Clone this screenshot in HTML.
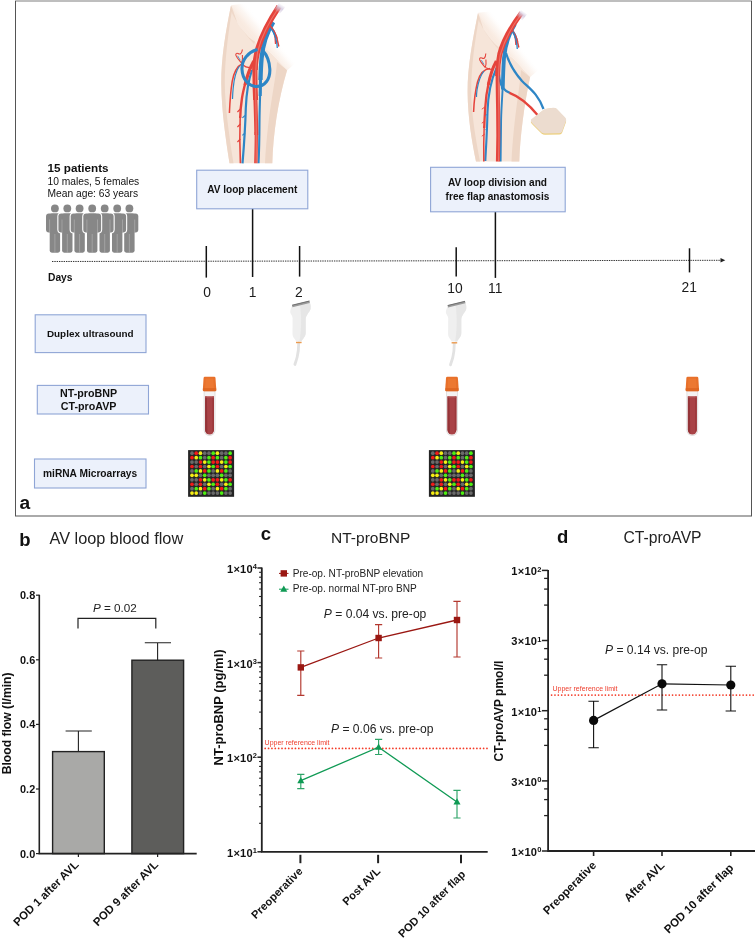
<!DOCTYPE html>
<html><head><meta charset="utf-8"><title>Figure</title>
<style>
html,body{margin:0;padding:0;background:#fff}
svg{display:block;will-change:transform;opacity:0.999}
text{font-family:"Liberation Sans",sans-serif}
</style></head><body>
<svg width="755" height="939" viewBox="0 0 755 939">
<rect width="755" height="939" fill="#fff"/>
<rect x="15.5" y="1" width="736" height="514.7" fill="#fff" stroke="none"/>
<text x="47.5" y="172.3" font-size="11.7" font-weight="bold" fill="#111">15 patients</text>
<text x="47.5" y="184.9" font-size="10.25" fill="#111">10 males, 5 females</text>
<text x="47.5" y="197.3" font-size="10.25" fill="#111">Mean age: 63 years</text>
<g fill="#fff" stroke="#fff" stroke-width="2.2"><rect x="46.00" y="213.5" width="17.8" height="18.9" rx="2.9"/><rect x="49.70" y="213.5" width="10.4" height="39.2" rx="2.1"/><circle cx="54.9" cy="208.4" r="3.9"/></g><g fill="#878787"><rect x="46.00" y="213.5" width="17.8" height="18.9" rx="2.9"/><rect x="49.70" y="213.5" width="10.4" height="39.2" rx="2.1"/><circle cx="54.9" cy="208.4" r="3.9"/></g><path d="M49.60,219.5 V232.6 M60.20,219.5 V232.6 M54.9,234 V252.7" stroke="#b9b9b9" stroke-width="0.55" fill="none"/>
<g fill="#fff" stroke="#fff" stroke-width="2.2"><rect x="120.50" y="213.5" width="17.8" height="18.9" rx="2.9"/><rect x="124.20" y="213.5" width="10.4" height="39.2" rx="2.1"/><circle cx="129.4" cy="208.4" r="3.9"/></g><g fill="#878787"><rect x="120.50" y="213.5" width="17.8" height="18.9" rx="2.9"/><rect x="124.20" y="213.5" width="10.4" height="39.2" rx="2.1"/><circle cx="129.4" cy="208.4" r="3.9"/></g><path d="M124.10,219.5 V232.6 M134.70,219.5 V232.6 M129.4,234 V252.7" stroke="#b9b9b9" stroke-width="0.55" fill="none"/>
<g fill="#fff" stroke="#fff" stroke-width="2.2"><rect x="58.40" y="213.5" width="17.8" height="18.9" rx="2.9"/><rect x="62.10" y="213.5" width="10.4" height="39.2" rx="2.1"/><circle cx="67.3" cy="208.4" r="3.9"/></g><g fill="#878787"><rect x="58.40" y="213.5" width="17.8" height="18.9" rx="2.9"/><rect x="62.10" y="213.5" width="10.4" height="39.2" rx="2.1"/><circle cx="67.3" cy="208.4" r="3.9"/></g><path d="M62.00,219.5 V232.6 M72.60,219.5 V232.6 M67.3,234 V252.7" stroke="#b9b9b9" stroke-width="0.55" fill="none"/>
<g fill="#fff" stroke="#fff" stroke-width="2.2"><rect x="108.30" y="213.5" width="17.8" height="18.9" rx="2.9"/><rect x="112.00" y="213.5" width="10.4" height="39.2" rx="2.1"/><circle cx="117.2" cy="208.4" r="3.9"/></g><g fill="#878787"><rect x="108.30" y="213.5" width="17.8" height="18.9" rx="2.9"/><rect x="112.00" y="213.5" width="10.4" height="39.2" rx="2.1"/><circle cx="117.2" cy="208.4" r="3.9"/></g><path d="M111.90,219.5 V232.6 M122.50,219.5 V232.6 M117.2,234 V252.7" stroke="#b9b9b9" stroke-width="0.55" fill="none"/>
<g fill="#fff" stroke="#fff" stroke-width="2.2"><rect x="70.70" y="213.5" width="17.8" height="18.9" rx="2.9"/><rect x="74.40" y="213.5" width="10.4" height="39.2" rx="2.1"/><circle cx="79.6" cy="208.4" r="3.9"/></g><g fill="#878787"><rect x="70.70" y="213.5" width="17.8" height="18.9" rx="2.9"/><rect x="74.40" y="213.5" width="10.4" height="39.2" rx="2.1"/><circle cx="79.6" cy="208.4" r="3.9"/></g><path d="M74.30,219.5 V232.6 M84.90,219.5 V232.6 M79.6,234 V252.7" stroke="#b9b9b9" stroke-width="0.55" fill="none"/>
<g fill="#fff" stroke="#fff" stroke-width="2.2"><rect x="95.80" y="213.5" width="17.8" height="18.9" rx="2.9"/><rect x="99.50" y="213.5" width="10.4" height="39.2" rx="2.1"/><circle cx="104.7" cy="208.4" r="3.9"/></g><g fill="#878787"><rect x="95.80" y="213.5" width="17.8" height="18.9" rx="2.9"/><rect x="99.50" y="213.5" width="10.4" height="39.2" rx="2.1"/><circle cx="104.7" cy="208.4" r="3.9"/></g><path d="M99.40,219.5 V232.6 M110.00,219.5 V232.6 M104.7,234 V252.7" stroke="#b9b9b9" stroke-width="0.55" fill="none"/>
<g fill="#fff" stroke="#fff" stroke-width="2.2"><rect x="83.30" y="213.5" width="17.8" height="18.9" rx="2.9"/><rect x="87.00" y="213.5" width="10.4" height="39.2" rx="2.1"/><circle cx="92.2" cy="208.4" r="3.9"/></g><g fill="#878787"><rect x="83.30" y="213.5" width="17.8" height="18.9" rx="2.9"/><rect x="87.00" y="213.5" width="10.4" height="39.2" rx="2.1"/><circle cx="92.2" cy="208.4" r="3.9"/></g><path d="M86.90,219.5 V232.6 M97.50,219.5 V232.6 M92.2,234 V252.7" stroke="#b9b9b9" stroke-width="0.55" fill="none"/>
<line x1="52" y1="261.5" x2="721" y2="260.3" stroke="#333" stroke-width="1" stroke-dasharray="1.4,0.93"/>
<path d="M720.5,258.1 L725.3,260.3 L720.5,262.5 z" fill="#222"/>
<line x1="206.3" y1="246" x2="206.3" y2="277.6" stroke="#111" stroke-width="1.5"/>
<line x1="299.6" y1="246" x2="299.6" y2="276.6" stroke="#111" stroke-width="1.5"/>
<line x1="456.2" y1="247.3" x2="456.2" y2="276.4" stroke="#111" stroke-width="1.5"/>
<line x1="689.5" y1="248.3" x2="689.5" y2="272.4" stroke="#111" stroke-width="1.5"/>
<line x1="252.6" y1="208.5" x2="252.6" y2="277" stroke="#111" stroke-width="1.5"/>
<line x1="495.4" y1="212" x2="495.4" y2="277.9" stroke="#111" stroke-width="1.5"/>
<text x="207" y="297.2" font-size="13.8" text-anchor="middle" fill="#1a1a1a">0</text>
<text x="252.7" y="297.2" font-size="13.8" text-anchor="middle" fill="#1a1a1a">1</text>
<text x="298.8" y="297.2" font-size="13.8" text-anchor="middle" fill="#1a1a1a">2</text>
<text x="454.9" y="293.2" font-size="13.8" text-anchor="middle" fill="#1a1a1a">10</text>
<text x="495.2" y="293.2" font-size="13.8" text-anchor="middle" fill="#1a1a1a">11</text>
<text x="689.2" y="291.7" font-size="13.8" text-anchor="middle" fill="#1a1a1a">21</text>
<text x="48" y="280.6" font-size="10.25" font-weight="bold" fill="#111">Days</text>
<rect x="196.7" y="170.2" width="111.1" height="38.6" fill="#ecf1fb" stroke="#8fa5d6" stroke-width="1.1"/>
<text x="252.2" y="193" font-size="10.1" font-weight="bold" text-anchor="middle" fill="#111">AV loop placement</text>
<rect x="430.6" y="167.3" width="134.6" height="44.5" fill="#ecf1fb" stroke="#8fa5d6" stroke-width="1.1"/>
<text x="497.5" y="186.4" font-size="10.1" font-weight="bold" text-anchor="middle" fill="#111">AV loop division and</text>
<text x="497.5" y="199.9" font-size="10.1" font-weight="bold" text-anchor="middle" fill="#111">free flap anastomosis</text>
<rect x="35.2" y="314.8" width="110.8" height="37.8" fill="#ecf1fb" stroke="#8fa5d6" stroke-width="1.1"/>
<text x="90.3" y="337" font-size="9.9" font-weight="bold" text-anchor="middle" fill="#111">Duplex ultrasound</text>
<rect x="37.3" y="385.4" width="111.2" height="28.6" fill="#ecf1fb" stroke="#8fa5d6" stroke-width="1.1"/>
<text x="88.6" y="397" font-size="10.7" font-weight="bold" text-anchor="middle" fill="#111">NT-proBNP</text>
<text x="88.6" y="410.2" font-size="10.7" font-weight="bold" text-anchor="middle" fill="#111">CT-proAVP</text>
<rect x="34.5" y="459" width="111.5" height="29" fill="#ecf1fb" stroke="#8fa5d6" stroke-width="1.1"/>
<text x="90.1" y="477.3" font-size="10.2" font-weight="bold" text-anchor="middle" fill="#111">miRNA Microarrays</text>
<text x="19.6" y="508.7" font-size="19.2" font-weight="bold" fill="#111">a</text>
<g transform="translate(0,0)"><path d="M298.7,343 C298.7,349 298.2,353 297.2,357 C296.4,360 295.5,362.5 294.9,364.5" fill="none" stroke="#e2e2e2" stroke-width="2.8" stroke-linecap="round"/><path d="M292.3,305.6 L309.4,301.4 C310.6,304 311,306.5 310.6,309 C309,313 306,315 305.7,319 L305.7,333 C305.5,337 302.5,339 301.6,341.3 L296,341.3 C295.5,339 292.7,338 292.5,334 L292.6,318 C292.4,315.5 290.4,314 290.2,312 C290.4,309.5 291.3,307.5 292.3,305.6 z" fill="#efefef"/><path d="M300,304 L309.4,301.4 C310.6,304 311,306.5 310.6,309 C309,313 306,315 305.7,319 L305.7,333 C305.5,337 302.5,339 301.6,341.3 L299.5,341.3 C301,333 302,320 300,304 z" fill="#e6e6e6"/><path d="M292.1,305 L309.4,300.8 L309.8,302.9 L292.4,307.2 z" fill="#9a9a9a"/><path d="M292.1,305.2 L309.4,301" stroke="#606060" stroke-width="0.8" fill="none"/><path d="M296,342.5 L301.6,342.5" stroke="#eb9a4e" stroke-width="1.4" fill="none"/></g>
<g transform="translate(155.6,0.3)"><path d="M298.7,343 C298.7,349 298.2,353 297.2,357 C296.4,360 295.5,362.5 294.9,364.5" fill="none" stroke="#e2e2e2" stroke-width="2.8" stroke-linecap="round"/><path d="M292.3,305.6 L309.4,301.4 C310.6,304 311,306.5 310.6,309 C309,313 306,315 305.7,319 L305.7,333 C305.5,337 302.5,339 301.6,341.3 L296,341.3 C295.5,339 292.7,338 292.5,334 L292.6,318 C292.4,315.5 290.4,314 290.2,312 C290.4,309.5 291.3,307.5 292.3,305.6 z" fill="#efefef"/><path d="M300,304 L309.4,301.4 C310.6,304 311,306.5 310.6,309 C309,313 306,315 305.7,319 L305.7,333 C305.5,337 302.5,339 301.6,341.3 L299.5,341.3 C301,333 302,320 300,304 z" fill="#e6e6e6"/><path d="M292.1,305 L309.4,300.8 L309.8,302.9 L292.4,307.2 z" fill="#9a9a9a"/><path d="M292.1,305.2 L309.4,301" stroke="#606060" stroke-width="0.8" fill="none"/><path d="M296,342.5 L301.6,342.5" stroke="#eb9a4e" stroke-width="1.4" fill="none"/></g>
<g transform="translate(0,0)"><path d="M203.7,390 L203.7,430.2 A5.85,5.85 0 0 0 215.4,430.2 L215.4,390 z" fill="#dcdada"/><path d="M204.5,390 L204.5,430.2 A5.05,5.05 0 0 0 214.6,430.2 L214.6,390 z" fill="#f4f2f2"/><path d="M205.1,396.4 L205.1,430 A4.45,4.45 0 0 0 214,430 L214,396.4 z" fill="#a94347"/><path d="M205.1,396.4 L205.1,430 A4.45,4.45 0 0 0 207.4,433.8 L206.9,396.4 z" fill="#943337"/><path d="M212.4,396.4 L212.4,432.5 A4.45,4.45 0 0 0 214,430 L214,396.4 z" fill="#9c383b"/><path d="M205.1,396.4 h8.9 v1.1 h-8.9 z" fill="#b85a5c"/><path d="M203.6,377.9 Q203.7,376.8 204.9,376.8 L214.2,376.8 Q215.4,376.8 215.5,377.9 L216.3,389.9 Q216.3,391.3 215,391.3 L204.1,391.3 Q202.8,391.3 202.8,389.9 z" fill="#e8702a"/><path d="M205.6,378.6 L213.4,378.6 L213.9,388.6 L205.1,388.6 z" fill="#ef8038" opacity="0.55"/><path d="M203,388 L216.1,388 L216.3,389.9 Q216.3,391.3 215,391.3 L204.1,391.3 Q202.8,391.3 202.8,389.9 z" fill="#d9611f" opacity="0.6"/></g>
<g transform="translate(242.4,0)"><path d="M203.7,390 L203.7,430.2 A5.85,5.85 0 0 0 215.4,430.2 L215.4,390 z" fill="#dcdada"/><path d="M204.5,390 L204.5,430.2 A5.05,5.05 0 0 0 214.6,430.2 L214.6,390 z" fill="#f4f2f2"/><path d="M205.1,396.4 L205.1,430 A4.45,4.45 0 0 0 214,430 L214,396.4 z" fill="#a94347"/><path d="M205.1,396.4 L205.1,430 A4.45,4.45 0 0 0 207.4,433.8 L206.9,396.4 z" fill="#943337"/><path d="M212.4,396.4 L212.4,432.5 A4.45,4.45 0 0 0 214,430 L214,396.4 z" fill="#9c383b"/><path d="M205.1,396.4 h8.9 v1.1 h-8.9 z" fill="#b85a5c"/><path d="M203.6,377.9 Q203.7,376.8 204.9,376.8 L214.2,376.8 Q215.4,376.8 215.5,377.9 L216.3,389.9 Q216.3,391.3 215,391.3 L204.1,391.3 Q202.8,391.3 202.8,389.9 z" fill="#e8702a"/><path d="M205.6,378.6 L213.4,378.6 L213.9,388.6 L205.1,388.6 z" fill="#ef8038" opacity="0.55"/><path d="M203,388 L216.1,388 L216.3,389.9 Q216.3,391.3 215,391.3 L204.1,391.3 Q202.8,391.3 202.8,389.9 z" fill="#d9611f" opacity="0.6"/></g>
<g transform="translate(482.8,0)"><path d="M203.7,390 L203.7,430.2 A5.85,5.85 0 0 0 215.4,430.2 L215.4,390 z" fill="#dcdada"/><path d="M204.5,390 L204.5,430.2 A5.05,5.05 0 0 0 214.6,430.2 L214.6,390 z" fill="#f4f2f2"/><path d="M205.1,396.4 L205.1,430 A4.45,4.45 0 0 0 214,430 L214,396.4 z" fill="#a94347"/><path d="M205.1,396.4 L205.1,430 A4.45,4.45 0 0 0 207.4,433.8 L206.9,396.4 z" fill="#943337"/><path d="M212.4,396.4 L212.4,432.5 A4.45,4.45 0 0 0 214,430 L214,396.4 z" fill="#9c383b"/><path d="M205.1,396.4 h8.9 v1.1 h-8.9 z" fill="#b85a5c"/><path d="M203.6,377.9 Q203.7,376.8 204.9,376.8 L214.2,376.8 Q215.4,376.8 215.5,377.9 L216.3,389.9 Q216.3,391.3 215,391.3 L204.1,391.3 Q202.8,391.3 202.8,389.9 z" fill="#e8702a"/><path d="M205.6,378.6 L213.4,378.6 L213.9,388.6 L205.1,388.6 z" fill="#ef8038" opacity="0.55"/><path d="M203,388 L216.1,388 L216.3,389.9 Q216.3,391.3 215,391.3 L204.1,391.3 Q202.8,391.3 202.8,389.9 z" fill="#d9611f" opacity="0.6"/></g>
<g transform="translate(0,0)"><rect x="188.1" y="450.1" width="46" height="46.7" fill="#242424"/><circle cx="192.00" cy="453.20" r="1.85" fill="#6a6a6a"/><circle cx="196.24" cy="453.20" r="1.85" fill="#f21a1a"/><circle cx="200.47" cy="453.20" r="1.85" fill="#f6ee14"/><circle cx="204.71" cy="453.20" r="1.85" fill="#6a6a6a"/><circle cx="208.95" cy="453.20" r="1.85" fill="#6a6a6a"/><circle cx="213.19" cy="453.20" r="1.85" fill="#4eee12"/><circle cx="217.42" cy="453.20" r="1.85" fill="#f6ee14"/><circle cx="221.66" cy="453.20" r="1.85" fill="#6a6a6a"/><circle cx="225.90" cy="453.20" r="1.85" fill="#6a6a6a"/><circle cx="230.13" cy="453.20" r="1.85" fill="#4eee12"/><circle cx="192.00" cy="457.63" r="1.85" fill="#f21a1a"/><circle cx="196.24" cy="457.63" r="1.85" fill="#f6ee14"/><circle cx="200.47" cy="457.63" r="1.85" fill="#4eee12"/><circle cx="204.71" cy="457.63" r="1.85" fill="#6a6a6a"/><circle cx="208.95" cy="457.63" r="1.85" fill="#4eee12"/><circle cx="213.19" cy="457.63" r="1.85" fill="#f21a1a"/><circle cx="217.42" cy="457.63" r="1.85" fill="#4eee12"/><circle cx="221.66" cy="457.63" r="1.85" fill="#6a6a6a"/><circle cx="225.90" cy="457.63" r="1.85" fill="#4eee12"/><circle cx="230.13" cy="457.63" r="1.85" fill="#f21a1a"/><circle cx="192.00" cy="462.07" r="1.85" fill="#6a6a6a"/><circle cx="196.24" cy="462.07" r="1.85" fill="#6a6a6a"/><circle cx="200.47" cy="462.07" r="1.85" fill="#f21a1a"/><circle cx="204.71" cy="462.07" r="1.85" fill="#f6ee14"/><circle cx="208.95" cy="462.07" r="1.85" fill="#4eee12"/><circle cx="213.19" cy="462.07" r="1.85" fill="#f21a1a"/><circle cx="217.42" cy="462.07" r="1.85" fill="#f21a1a"/><circle cx="221.66" cy="462.07" r="1.85" fill="#f6ee14"/><circle cx="225.90" cy="462.07" r="1.85" fill="#4eee12"/><circle cx="230.13" cy="462.07" r="1.85" fill="#f21a1a"/><circle cx="192.00" cy="466.50" r="1.85" fill="#f21a1a"/><circle cx="196.24" cy="466.50" r="1.85" fill="#6a6a6a"/><circle cx="200.47" cy="466.50" r="1.85" fill="#f21a1a"/><circle cx="204.71" cy="466.50" r="1.85" fill="#6a6a6a"/><circle cx="208.95" cy="466.50" r="1.85" fill="#f6ee14"/><circle cx="213.19" cy="466.50" r="1.85" fill="#4eee12"/><circle cx="217.42" cy="466.50" r="1.85" fill="#f21a1a"/><circle cx="221.66" cy="466.50" r="1.85" fill="#6a6a6a"/><circle cx="225.90" cy="466.50" r="1.85" fill="#f6ee14"/><circle cx="230.13" cy="466.50" r="1.85" fill="#4eee12"/><circle cx="192.00" cy="470.93" r="1.85" fill="#6a6a6a"/><circle cx="196.24" cy="470.93" r="1.85" fill="#4eee12"/><circle cx="200.47" cy="470.93" r="1.85" fill="#f6ee14"/><circle cx="204.71" cy="470.93" r="1.85" fill="#f21a1a"/><circle cx="208.95" cy="470.93" r="1.85" fill="#4eee12"/><circle cx="213.19" cy="470.93" r="1.85" fill="#6a6a6a"/><circle cx="217.42" cy="470.93" r="1.85" fill="#f6ee14"/><circle cx="221.66" cy="470.93" r="1.85" fill="#f21a1a"/><circle cx="225.90" cy="470.93" r="1.85" fill="#4eee12"/><circle cx="230.13" cy="470.93" r="1.85" fill="#6a6a6a"/><circle cx="192.00" cy="475.37" r="1.85" fill="#f6ee14"/><circle cx="196.24" cy="475.37" r="1.85" fill="#f6ee14"/><circle cx="200.47" cy="475.37" r="1.85" fill="#6a6a6a"/><circle cx="204.71" cy="475.37" r="1.85" fill="#4eee12"/><circle cx="208.95" cy="475.37" r="1.85" fill="#6a6a6a"/><circle cx="213.19" cy="475.37" r="1.85" fill="#6a6a6a"/><circle cx="217.42" cy="475.37" r="1.85" fill="#6a6a6a"/><circle cx="221.66" cy="475.37" r="1.85" fill="#4eee12"/><circle cx="225.90" cy="475.37" r="1.85" fill="#6a6a6a"/><circle cx="230.13" cy="475.37" r="1.85" fill="#6a6a6a"/><circle cx="192.00" cy="479.80" r="1.85" fill="#6a6a6a"/><circle cx="196.24" cy="479.80" r="1.85" fill="#6a6a6a"/><circle cx="200.47" cy="479.80" r="1.85" fill="#f21a1a"/><circle cx="204.71" cy="479.80" r="1.85" fill="#f6ee14"/><circle cx="208.95" cy="479.80" r="1.85" fill="#4eee12"/><circle cx="213.19" cy="479.80" r="1.85" fill="#f21a1a"/><circle cx="217.42" cy="479.80" r="1.85" fill="#f21a1a"/><circle cx="221.66" cy="479.80" r="1.85" fill="#f6ee14"/><circle cx="225.90" cy="479.80" r="1.85" fill="#4eee12"/><circle cx="230.13" cy="479.80" r="1.85" fill="#f21a1a"/><circle cx="192.00" cy="484.23" r="1.85" fill="#f21a1a"/><circle cx="196.24" cy="484.23" r="1.85" fill="#6a6a6a"/><circle cx="200.47" cy="484.23" r="1.85" fill="#f21a1a"/><circle cx="204.71" cy="484.23" r="1.85" fill="#6a6a6a"/><circle cx="208.95" cy="484.23" r="1.85" fill="#f6ee14"/><circle cx="213.19" cy="484.23" r="1.85" fill="#4eee12"/><circle cx="217.42" cy="484.23" r="1.85" fill="#f21a1a"/><circle cx="221.66" cy="484.23" r="1.85" fill="#6a6a6a"/><circle cx="225.90" cy="484.23" r="1.85" fill="#f6ee14"/><circle cx="230.13" cy="484.23" r="1.85" fill="#4eee12"/><circle cx="192.00" cy="488.66" r="1.85" fill="#6a6a6a"/><circle cx="196.24" cy="488.66" r="1.85" fill="#4eee12"/><circle cx="200.47" cy="488.66" r="1.85" fill="#f6ee14"/><circle cx="204.71" cy="488.66" r="1.85" fill="#f21a1a"/><circle cx="208.95" cy="488.66" r="1.85" fill="#4eee12"/><circle cx="213.19" cy="488.66" r="1.85" fill="#6a6a6a"/><circle cx="217.42" cy="488.66" r="1.85" fill="#f6ee14"/><circle cx="221.66" cy="488.66" r="1.85" fill="#f21a1a"/><circle cx="225.90" cy="488.66" r="1.85" fill="#4eee12"/><circle cx="230.13" cy="488.66" r="1.85" fill="#6a6a6a"/><circle cx="192.00" cy="493.10" r="1.85" fill="#f6ee14"/><circle cx="196.24" cy="493.10" r="1.85" fill="#f6ee14"/><circle cx="200.47" cy="493.10" r="1.85" fill="#6a6a6a"/><circle cx="204.71" cy="493.10" r="1.85" fill="#4eee12"/><circle cx="208.95" cy="493.10" r="1.85" fill="#6a6a6a"/><circle cx="213.19" cy="493.10" r="1.85" fill="#6a6a6a"/><circle cx="217.42" cy="493.10" r="1.85" fill="#6a6a6a"/><circle cx="221.66" cy="493.10" r="1.85" fill="#4eee12"/><circle cx="225.90" cy="493.10" r="1.85" fill="#6a6a6a"/><circle cx="230.13" cy="493.10" r="1.85" fill="#6a6a6a"/></g>
<g transform="translate(240.8,0)"><rect x="188.1" y="450.1" width="46" height="46.7" fill="#242424"/><circle cx="192.00" cy="453.20" r="1.85" fill="#6a6a6a"/><circle cx="196.24" cy="453.20" r="1.85" fill="#f21a1a"/><circle cx="200.47" cy="453.20" r="1.85" fill="#f6ee14"/><circle cx="204.71" cy="453.20" r="1.85" fill="#6a6a6a"/><circle cx="208.95" cy="453.20" r="1.85" fill="#6a6a6a"/><circle cx="213.19" cy="453.20" r="1.85" fill="#4eee12"/><circle cx="217.42" cy="453.20" r="1.85" fill="#f6ee14"/><circle cx="221.66" cy="453.20" r="1.85" fill="#6a6a6a"/><circle cx="225.90" cy="453.20" r="1.85" fill="#6a6a6a"/><circle cx="230.13" cy="453.20" r="1.85" fill="#4eee12"/><circle cx="192.00" cy="457.63" r="1.85" fill="#f21a1a"/><circle cx="196.24" cy="457.63" r="1.85" fill="#f6ee14"/><circle cx="200.47" cy="457.63" r="1.85" fill="#4eee12"/><circle cx="204.71" cy="457.63" r="1.85" fill="#6a6a6a"/><circle cx="208.95" cy="457.63" r="1.85" fill="#4eee12"/><circle cx="213.19" cy="457.63" r="1.85" fill="#f21a1a"/><circle cx="217.42" cy="457.63" r="1.85" fill="#4eee12"/><circle cx="221.66" cy="457.63" r="1.85" fill="#6a6a6a"/><circle cx="225.90" cy="457.63" r="1.85" fill="#4eee12"/><circle cx="230.13" cy="457.63" r="1.85" fill="#f21a1a"/><circle cx="192.00" cy="462.07" r="1.85" fill="#6a6a6a"/><circle cx="196.24" cy="462.07" r="1.85" fill="#6a6a6a"/><circle cx="200.47" cy="462.07" r="1.85" fill="#f21a1a"/><circle cx="204.71" cy="462.07" r="1.85" fill="#f6ee14"/><circle cx="208.95" cy="462.07" r="1.85" fill="#4eee12"/><circle cx="213.19" cy="462.07" r="1.85" fill="#f21a1a"/><circle cx="217.42" cy="462.07" r="1.85" fill="#f21a1a"/><circle cx="221.66" cy="462.07" r="1.85" fill="#f6ee14"/><circle cx="225.90" cy="462.07" r="1.85" fill="#4eee12"/><circle cx="230.13" cy="462.07" r="1.85" fill="#f21a1a"/><circle cx="192.00" cy="466.50" r="1.85" fill="#f21a1a"/><circle cx="196.24" cy="466.50" r="1.85" fill="#6a6a6a"/><circle cx="200.47" cy="466.50" r="1.85" fill="#f21a1a"/><circle cx="204.71" cy="466.50" r="1.85" fill="#6a6a6a"/><circle cx="208.95" cy="466.50" r="1.85" fill="#f6ee14"/><circle cx="213.19" cy="466.50" r="1.85" fill="#4eee12"/><circle cx="217.42" cy="466.50" r="1.85" fill="#f21a1a"/><circle cx="221.66" cy="466.50" r="1.85" fill="#6a6a6a"/><circle cx="225.90" cy="466.50" r="1.85" fill="#f6ee14"/><circle cx="230.13" cy="466.50" r="1.85" fill="#4eee12"/><circle cx="192.00" cy="470.93" r="1.85" fill="#6a6a6a"/><circle cx="196.24" cy="470.93" r="1.85" fill="#4eee12"/><circle cx="200.47" cy="470.93" r="1.85" fill="#f6ee14"/><circle cx="204.71" cy="470.93" r="1.85" fill="#f21a1a"/><circle cx="208.95" cy="470.93" r="1.85" fill="#4eee12"/><circle cx="213.19" cy="470.93" r="1.85" fill="#6a6a6a"/><circle cx="217.42" cy="470.93" r="1.85" fill="#f6ee14"/><circle cx="221.66" cy="470.93" r="1.85" fill="#f21a1a"/><circle cx="225.90" cy="470.93" r="1.85" fill="#4eee12"/><circle cx="230.13" cy="470.93" r="1.85" fill="#6a6a6a"/><circle cx="192.00" cy="475.37" r="1.85" fill="#f6ee14"/><circle cx="196.24" cy="475.37" r="1.85" fill="#f6ee14"/><circle cx="200.47" cy="475.37" r="1.85" fill="#6a6a6a"/><circle cx="204.71" cy="475.37" r="1.85" fill="#4eee12"/><circle cx="208.95" cy="475.37" r="1.85" fill="#6a6a6a"/><circle cx="213.19" cy="475.37" r="1.85" fill="#6a6a6a"/><circle cx="217.42" cy="475.37" r="1.85" fill="#6a6a6a"/><circle cx="221.66" cy="475.37" r="1.85" fill="#4eee12"/><circle cx="225.90" cy="475.37" r="1.85" fill="#6a6a6a"/><circle cx="230.13" cy="475.37" r="1.85" fill="#6a6a6a"/><circle cx="192.00" cy="479.80" r="1.85" fill="#6a6a6a"/><circle cx="196.24" cy="479.80" r="1.85" fill="#6a6a6a"/><circle cx="200.47" cy="479.80" r="1.85" fill="#f21a1a"/><circle cx="204.71" cy="479.80" r="1.85" fill="#f6ee14"/><circle cx="208.95" cy="479.80" r="1.85" fill="#4eee12"/><circle cx="213.19" cy="479.80" r="1.85" fill="#f21a1a"/><circle cx="217.42" cy="479.80" r="1.85" fill="#f21a1a"/><circle cx="221.66" cy="479.80" r="1.85" fill="#f6ee14"/><circle cx="225.90" cy="479.80" r="1.85" fill="#4eee12"/><circle cx="230.13" cy="479.80" r="1.85" fill="#f21a1a"/><circle cx="192.00" cy="484.23" r="1.85" fill="#f21a1a"/><circle cx="196.24" cy="484.23" r="1.85" fill="#6a6a6a"/><circle cx="200.47" cy="484.23" r="1.85" fill="#f21a1a"/><circle cx="204.71" cy="484.23" r="1.85" fill="#6a6a6a"/><circle cx="208.95" cy="484.23" r="1.85" fill="#f6ee14"/><circle cx="213.19" cy="484.23" r="1.85" fill="#4eee12"/><circle cx="217.42" cy="484.23" r="1.85" fill="#f21a1a"/><circle cx="221.66" cy="484.23" r="1.85" fill="#6a6a6a"/><circle cx="225.90" cy="484.23" r="1.85" fill="#f6ee14"/><circle cx="230.13" cy="484.23" r="1.85" fill="#4eee12"/><circle cx="192.00" cy="488.66" r="1.85" fill="#6a6a6a"/><circle cx="196.24" cy="488.66" r="1.85" fill="#4eee12"/><circle cx="200.47" cy="488.66" r="1.85" fill="#f6ee14"/><circle cx="204.71" cy="488.66" r="1.85" fill="#f21a1a"/><circle cx="208.95" cy="488.66" r="1.85" fill="#4eee12"/><circle cx="213.19" cy="488.66" r="1.85" fill="#6a6a6a"/><circle cx="217.42" cy="488.66" r="1.85" fill="#f6ee14"/><circle cx="221.66" cy="488.66" r="1.85" fill="#f21a1a"/><circle cx="225.90" cy="488.66" r="1.85" fill="#4eee12"/><circle cx="230.13" cy="488.66" r="1.85" fill="#6a6a6a"/><circle cx="192.00" cy="493.10" r="1.85" fill="#f6ee14"/><circle cx="196.24" cy="493.10" r="1.85" fill="#f6ee14"/><circle cx="200.47" cy="493.10" r="1.85" fill="#6a6a6a"/><circle cx="204.71" cy="493.10" r="1.85" fill="#4eee12"/><circle cx="208.95" cy="493.10" r="1.85" fill="#6a6a6a"/><circle cx="213.19" cy="493.10" r="1.85" fill="#6a6a6a"/><circle cx="217.42" cy="493.10" r="1.85" fill="#6a6a6a"/><circle cx="221.66" cy="493.10" r="1.85" fill="#4eee12"/><circle cx="225.90" cy="493.10" r="1.85" fill="#6a6a6a"/><circle cx="230.13" cy="493.10" r="1.85" fill="#6a6a6a"/></g>
<defs><linearGradient id="fade1" gradientUnits="userSpaceOnUse" x1="258" y1="39.5" x2="268.7" y2="30.4"><stop offset="0" stop-color="#f9ebe1" stop-opacity="0.95"/><stop offset="0.5" stop-color="#faefe7" stop-opacity="0.5"/><stop offset="1" stop-color="#fff" stop-opacity="0"/></linearGradient><linearGradient id="fade2" gradientUnits="userSpaceOnUse" x1="502" y1="45.5" x2="512.8" y2="36.6"><stop offset="0" stop-color="#f9ebe1" stop-opacity="0.95"/><stop offset="0.5" stop-color="#faefe7" stop-opacity="0.5"/><stop offset="1" stop-color="#fff" stop-opacity="0"/></linearGradient><linearGradient id="tip1" gradientUnits="userSpaceOnUse" x1="276" y1="12" x2="281" y2="4"><stop offset="0" stop-color="#c9b8d4" stop-opacity="0"/><stop offset="0.6" stop-color="#d8cfe2" stop-opacity="0.9"/><stop offset="1" stop-color="#fff" stop-opacity="1"/></linearGradient><linearGradient id="tip2" gradientUnits="userSpaceOnUse" x1="518" y1="18" x2="523" y2="11"><stop offset="0" stop-color="#c9b8d4" stop-opacity="0"/><stop offset="0.6" stop-color="#d8cfe2" stop-opacity="0.9"/><stop offset="1" stop-color="#fff" stop-opacity="1"/></linearGradient></defs>
<g>
<path d="M231,5.5 C226,30 221,58 221.3,84 C221.6,112 226,140 229.5,163.3 L272.3,163.3 C273,135 278,100 287.2,70.2 C281,63.5 273,55 268,50.5 C260,44.5 252,40 248.8,37.2 C244,32 240,27 237.3,22.5 L231.3,5.3 z" fill="#f6e5d9"/>
<path d="M231,5.5 C226,30 221,58 221.3,84 C221.6,112 226,140 229.5,163.3 L233.5,163.3 C229,135 225,105 224.8,84 C224.8,60 228,35 232,10 z" fill="#edd6c6"/>
<path d="M272.3,163.3 C273,135 278,100 287,70 C283,67 280,64 277,62 C276,80 268,110 265,163.3 z" fill="#edd6c6"/>
<path d="M231.5,6 C238,18 247,30 256,40 L254,44 C245,34 236,22 230.5,10 z" fill="#edd6c6" opacity="0.8"/>
<path d="M231.3,5.3 L237.3,22.5 C240,27 244,32 248.8,37.2 C252,40 260,44.5 268,50.5 C273,55 281,63.5 287.2,70.2 L299,60 L280,36 L262,14 L248,3 z" fill="url(#fade1)"/>
<path d="M242.5,63.3 C237.3,66 233.6,73 232.2,81.4 C230.8,90 229.9,102 229.4,113" fill="none" stroke="#e5443c" stroke-width="1.5"/>
<path d="M239.5,66 C235.8,71 234,80 233.2,88 C232.8,92 232.6,96 232.5,99" fill="none" stroke="#2e86c6" stroke-width="1.2"/>
<path d="M241.8,63.5 C239.5,60.5 237,58 236,55.6 C235.3,53.6 236.6,52.9 238,53.6 C239.8,54.6 241.8,54.2 242.4,49.5 M241.6,63.3 C242.7,60 242.7,57.5 242.4,55" fill="none" stroke="#e5443c" stroke-width="1.1"/>
<path d="M237.6,55.8 L240.2,60.2" fill="none" stroke="#2e86c6" stroke-width="0.8"/>
<path d="M252,70 C248.5,80 246.5,92 245.8,108 C245.3,128 243.8,148 242.5,163.3" fill="none" stroke="#2e86c6" stroke-width="2.2"/>
<path d="M253.8,61 C250,68 247,76 245,85" fill="none" stroke="#e5443c" stroke-width="3.2"/>
<path d="M245.6,82 C244,88 242.8,93 242,98 C240.8,106 240.3,112 240.2,118" fill="none" stroke="#e5443c" stroke-width="2.4"/>
<path d="M249.5,67.6 C247,67.4 245,66.8 243,65" fill="none" stroke="#e5443c" stroke-width="1.3"/>
<path d="M240.2,116 C239.7,130 239.7,148 240.4,163.3" fill="none" stroke="#e5443c" stroke-width="1.6"/>
<path d="M240.4,109 l-3,3" stroke="#e5443c" stroke-width="1.2" fill="none"/>
<path d="M240.4,124 l-3,3" stroke="#e5443c" stroke-width="1.2" fill="none"/>
<path d="M240.4,139 l-3,3" stroke="#e5443c" stroke-width="1.2" fill="none"/>
<path d="M245,115.5 l-2.6,2.4" stroke="#2e86c6" stroke-width="1.1" fill="none"/>
<path d="M245,133 l-2.6,2.4" stroke="#2e86c6" stroke-width="1.1" fill="none"/>
<path d="M273.3,22 C267,32 262.8,45 261.6,58 C260.9,66 260.7,72 260.5,80" fill="none" stroke="#2e86c6" stroke-width="4.3"/>
<path d="M260.5,78 C260.4,84 260.3,90 260.2,96" fill="none" stroke="#2e86c6" stroke-width="3.1"/>
<path d="M260.3,88 C260,100 259.6,110 259.5,120 C259.4,140 259,155 258.5,163.3" fill="none" stroke="#2e86c6" stroke-width="2.1"/>
<path d="M269.5,25.5 C272.5,29 274.8,33 276,37.5" fill="none" stroke="#2e86c6" stroke-width="2.6" stroke-linecap="round"/>
<path d="M270.5,26 C273.5,30 276,34 277.3,39 M276.5,36.5 L278.8,46.5 M275,35 L275.6,44" fill="none" stroke="#e5443c" stroke-width="1.5"/>
<path d="M272,29.5 C274.5,33.5 276.8,38 277.3,48" fill="none" stroke="#2e86c6" stroke-width="1.3"/>
<path d="M279,6.5 C272,17 263,32 258.2,48 C255.8,57 255,64 255,70" fill="none" stroke="#e5443c" stroke-width="5.6"/>
<path d="M255,66 C254.8,78 255,88 255.6,100" fill="none" stroke="#e5443c" stroke-width="5"/>
<path d="M255.3,96 C255.8,112 256.3,125 256.3,135" fill="none" stroke="#e5443c" stroke-width="4"/>
<path d="M256.3,132 C256.3,145 256,155 255.8,163.3" fill="none" stroke="#e5443c" stroke-width="3.3"/>
<path d="M278.5,8 C271,19 262,34 257.8,51 C255.3,64 255.2,80 255.8,100 C256.3,125 256.6,145 256.1,163" fill="none" stroke="#f0847a" stroke-width="1.2" opacity="0.7"/>
<path d="M280,2 L274,9.5 L280,13.5 L286.5,5.5 z" fill="url(#tip1)"/>
<path d="M257.5,49.5 C248,52 241.5,60 242,69.5 C242.5,79.5 249,86.5 256.5,86.5 C265,86.5 270.3,79 269.8,69 C269.4,61 266,54 262.8,50.5" fill="none" stroke="#2e86c6" stroke-width="3.1"/>
</g>
<g>
<path d="M478,13 C473,38 467.5,66 467.6,92 C467.8,118 472,142 476,161.5 L519.3,161.5 C520,138 524,105 530.2,77 C524,70 517,62 512,57.5 C505,52 498,47 494.5,43.5 C490,38.5 486,33 483.5,29 L478.3,12.8 z" fill="#f6e5d9"/>
<path d="M478,13 C473,38 467.5,66 467.6,92 C467.8,118 472,142 476,161.5 L480,161.5 C475.5,138 471.2,112 471.2,92 C471.2,66 474.8,42 479,18 z" fill="#edd6c6"/>
<path d="M519.3,161.5 C520,138 524,105 530,77 C527,75 524,72 521,70 C520,88 514,115 511.5,161.5 z" fill="#edd6c6"/>
<path d="M478.5,14 C485,26 493,37 501,46 L499,50 C491,41 483,30 477.5,18 z" fill="#edd6c6" opacity="0.8"/>
<path d="M478.3,12.8 L483.5,29 C486,33 490,38.5 494.5,43.5 C498,47 505,52 512,57.5 C517,62 524,70 530.2,77 L542,67 L523,43 L506,22 L494,11 z" fill="url(#fade2)"/>
<path d="M490,68.5 C484,69 480,73 477.5,82 C475,92 474,102 473.6,112" fill="none" stroke="#e5443c" stroke-width="1.5"/>
<path d="M484,71 C480,76 478,84 477,90 C476.6,93 476.5,95 476.5,97" fill="none" stroke="#2e86c6" stroke-width="1.2"/>
<path d="M485.5,67.8 C483.3,65 480.8,62.5 479.8,60 C479.2,58 480.5,57.3 481.9,58 C483.7,59 485.5,58.6 485.8,53.5 M485.3,67.6 C486.3,64.5 486.2,62 485.9,59.5" fill="none" stroke="#e5443c" stroke-width="1.1"/>
<path d="M481.4,60.2 L484,64.5" fill="none" stroke="#2e86c6" stroke-width="0.8"/>
<path d="M492.5,69.5 C490,69.4 488,69 486,67.8" fill="none" stroke="#e5443c" stroke-width="1.3"/>
<path d="M496.5,68 C491,80 488,95 487.5,112 C487,135 485.8,150 485.3,161" fill="none" stroke="#2e86c6" stroke-width="2.1"/>
<path d="M496.3,61 C492.5,68 490,76 488.3,85" fill="none" stroke="#e5443c" stroke-width="3"/>
<path d="M488.8,82 C487,90 485.8,98 485.2,108 C484.7,116 484.4,122 484.2,128" fill="none" stroke="#e5443c" stroke-width="2.3"/>
<path d="M484.2,126 C483.7,138 483.6,150 483.8,161.5" fill="none" stroke="#e5443c" stroke-width="1.5"/>
<path d="M484.8,107 l-3,2.2" stroke="#e5443c" stroke-width="0.9" fill="none"/>
<path d="M484.8,121 l-3,2.2" stroke="#e5443c" stroke-width="0.9" fill="none"/>
<path d="M484.8,134 l-3,2.2" stroke="#e5443c" stroke-width="0.9" fill="none"/>
<path d="M487.5,114 l-2.2,1.8" stroke="#2e86c6" stroke-width="0.8" fill="none"/>
<path d="M487.5,128 l-2.2,1.8" stroke="#2e86c6" stroke-width="0.8" fill="none"/>
<path d="M514.5,25 C509,34 505.2,46 504,58 C503.3,68 503,78 502.8,88" fill="none" stroke="#2e86c6" stroke-width="3.8" stroke-linecap="round"/>
<path d="M502.8,86 C502,100 501.3,110 501.1,120 C500.9,140 500.8,150 500.6,161.5" fill="none" stroke="#2e86c6" stroke-width="1.9"/>
<path d="M511,28.5 C513.5,32 515.5,35.5 516.5,39.5" fill="none" stroke="#2e86c6" stroke-width="2.4" stroke-linecap="round"/>
<path d="M511.5,29 C514.5,33 516.5,37 517.8,42 M516.8,39 L518.8,47.5 M515.3,37 L516,45" fill="none" stroke="#e5443c" stroke-width="1.5"/>
<path d="M512.8,31.5 C515,35.5 516.8,40 517.3,49" fill="none" stroke="#2e86c6" stroke-width="1.3"/>
<path d="M506,53 C509,63 515,73 522,81 C530,89 538,94 543.5,109" fill="none" stroke="#2e86c6" stroke-width="2.3"/>
<path d="M498.5,60 C498,72 499,82 503,88 C505,90.5 507.5,92 510,93" fill="none" stroke="#2e86c6" stroke-width="2.3"/>
<path d="M509.5,92.8 C518,96 527,102 537.5,115" fill="none" stroke="#e5443c" stroke-width="2.3"/>
<path d="M521.5,13 C514,23 504,38 499.8,54 C498,62 497.6,70 497.6,76" fill="none" stroke="#e5443c" stroke-width="5"/>
<path d="M497.6,72 C497.6,84 497.8,95 498.1,110 C498.4,125 498.4,145 497.9,161.5" fill="none" stroke="#e5443c" stroke-width="4"/>
<path d="M520.5,15 C513,25 504.5,40 500.2,55 C498.2,67 498.2,84 498.7,100 C499.1,125 499.1,145 498.5,161" fill="none" stroke="#f0847a" stroke-width="1.1" opacity="0.7"/>
<path d="M522,9 L516,16.5 L522,20.5 L528.5,12.5 z" fill="url(#tip2)"/>
<path d="M531,120.5 Q530.3,122.5 532,124 L541.5,133.6 Q543,134.8 545,134.8 L559.5,134.6 Q561.5,134.4 562.2,132.5 L566,122 Q566.6,120 565.2,118.5 L556.5,109 Q555,107.8 553,108 L546,109 Q544.5,109.3 543.3,110.3 z" fill="#eccf7c"/>
<path d="M531,119.5 Q530.3,121.5 532,123 L541.5,132.4 Q543,133.5 545,133.5 L559.5,133.3 Q561.5,133.1 562.2,131.3 L566,121 Q566.6,119 565.2,117.6 L556.5,108.6 Q555,107.6 553,107.8 L546,108.8 Q544.5,109.1 543.3,110 z" fill="#ecdccf"/>
</g>
<line x1="15" y1="1" x2="752" y2="1" stroke="#a8a8a8" stroke-width="1.4"/><line x1="15" y1="516" x2="752" y2="516" stroke="#8e8e8e" stroke-width="1.4"/><line x1="15.5" y1="1" x2="15.5" y2="516" stroke="#555" stroke-width="1"/><line x1="751.5" y1="1" x2="751.5" y2="516" stroke="#555" stroke-width="1"/>
<text x="19.3" y="545.6" font-size="18.5" font-weight="bold" fill="#111">b</text>
<text x="49.5" y="544" font-size="16.3" fill="#222">AV loop blood flow</text>
<rect x="52.6" y="751.6" width="51.7" height="102.0" fill="#a9a9a7" stroke="#222" stroke-width="1.4"/>
<rect x="131.9" y="660.2" width="51.7" height="193.4" fill="#5d5d5b" stroke="#222" stroke-width="1.4"/>
<path d="M78.4,751.6 V731 M65.6,731 H91.8" stroke="#222" stroke-width="1.1" fill="none"/>
<path d="M157.6,660.2 V642.7 M144.8,642.7 H171" stroke="#222" stroke-width="1.1" fill="none"/>
<path d="M39.3,594.7 V853.6 H196.7" stroke="#222" stroke-width="1.6" fill="none"/>
<line x1="36" y1="853.6" x2="39.3" y2="853.6" stroke="#222" stroke-width="1.2"/>
<text x="35.2" y="857.5" font-size="10.9" font-weight="bold" text-anchor="end" fill="#111">0.0</text>
<line x1="36" y1="789.0" x2="39.3" y2="789.0" stroke="#222" stroke-width="1.2"/>
<text x="35.2" y="792.9" font-size="10.9" font-weight="bold" text-anchor="end" fill="#111">0.2</text>
<line x1="36" y1="724.4" x2="39.3" y2="724.4" stroke="#222" stroke-width="1.2"/>
<text x="35.2" y="728.3" font-size="10.9" font-weight="bold" text-anchor="end" fill="#111">0.4</text>
<line x1="36" y1="659.8" x2="39.3" y2="659.8" stroke="#222" stroke-width="1.2"/>
<text x="35.2" y="663.7" font-size="10.9" font-weight="bold" text-anchor="end" fill="#111">0.6</text>
<line x1="36" y1="595.2" x2="39.3" y2="595.2" stroke="#222" stroke-width="1.2"/>
<text x="35.2" y="599.1" font-size="10.9" font-weight="bold" text-anchor="end" fill="#111">0.8</text>
<line x1="78.4" y1="853.6" x2="78.4" y2="857.1" stroke="#222" stroke-width="1.2"/>
<line x1="157.6" y1="853.6" x2="157.6" y2="857.1" stroke="#222" stroke-width="1.2"/>
<path d="M78,628.5 V618.3 H155.8 V628.5" stroke="#222" stroke-width="1.2" fill="none"/>
<text x="114.9" y="611.8" font-size="11.7" text-anchor="middle" fill="#222"><tspan font-style="italic">P</tspan> = 0.02</text>
<text transform="translate(11.3,723.4) rotate(-90)" font-size="12.15" font-weight="bold" text-anchor="middle" fill="#111">Blood flow (l/min)</text>
<text transform="translate(79.3,865.4) rotate(-45)" font-size="11.4" font-weight="bold" text-anchor="end" fill="#111">POD 1 after AVL</text>
<text transform="translate(159,865.4) rotate(-45)" font-size="11.4" font-weight="bold" text-anchor="end" fill="#111">POD 9 after AVL</text>
<text x="260.7" y="540" font-size="18.5" font-weight="bold" fill="#111">c</text>
<text x="370.7" y="543.3" font-size="15.5" text-anchor="middle" fill="#222">NT-proBNP</text>
<line x1="265.2" y1="748.4" x2="488" y2="748.4" stroke="#f43a26" stroke-width="1.75" stroke-dasharray="0.01,3.35" stroke-linecap="round"/>
<text x="264.6" y="744.8" font-size="7" fill="#ee4030">Upper reference limit</text>
<path d="M261.8,567.5 V851.8 H487.7" stroke="#222" stroke-width="1.8" fill="none"/>
<line x1="257.40000000000003" y1="851.8" x2="261.8" y2="851.8" stroke="#222" stroke-width="1.5"/>
<text x="257.2" y="856.6999999999999" font-size="11.1" font-weight="bold" text-anchor="end" letter-spacing="0.2" fill="#111">1×10<tspan font-size="7.5" dy="-3.8">1</tspan></text>
<line x1="259.1" y1="823.3" x2="261.8" y2="823.3" stroke="#222" stroke-width="1.1"/>
<line x1="259.1" y1="806.7" x2="261.8" y2="806.7" stroke="#222" stroke-width="1.1"/>
<line x1="259.1" y1="794.8" x2="261.8" y2="794.8" stroke="#222" stroke-width="1.1"/>
<line x1="259.1" y1="785.7" x2="261.8" y2="785.7" stroke="#222" stroke-width="1.1"/>
<line x1="259.1" y1="778.2" x2="261.8" y2="778.2" stroke="#222" stroke-width="1.1"/>
<line x1="259.1" y1="771.9" x2="261.8" y2="771.9" stroke="#222" stroke-width="1.1"/>
<line x1="259.1" y1="766.4" x2="261.8" y2="766.4" stroke="#222" stroke-width="1.1"/>
<line x1="259.1" y1="761.5" x2="261.8" y2="761.5" stroke="#222" stroke-width="1.1"/>
<line x1="257.40000000000003" y1="757.2" x2="261.8" y2="757.2" stroke="#222" stroke-width="1.5"/>
<text x="257.2" y="762.0999999999999" font-size="11.1" font-weight="bold" text-anchor="end" letter-spacing="0.2" fill="#111">1×10<tspan font-size="7.5" dy="-3.8">2</tspan></text>
<line x1="259.1" y1="728.7" x2="261.8" y2="728.7" stroke="#222" stroke-width="1.1"/>
<line x1="259.1" y1="712.1" x2="261.8" y2="712.1" stroke="#222" stroke-width="1.1"/>
<line x1="259.1" y1="700.2" x2="261.8" y2="700.2" stroke="#222" stroke-width="1.1"/>
<line x1="259.1" y1="691.1" x2="261.8" y2="691.1" stroke="#222" stroke-width="1.1"/>
<line x1="259.1" y1="683.6" x2="261.8" y2="683.6" stroke="#222" stroke-width="1.1"/>
<line x1="259.1" y1="677.3" x2="261.8" y2="677.3" stroke="#222" stroke-width="1.1"/>
<line x1="259.1" y1="671.8" x2="261.8" y2="671.8" stroke="#222" stroke-width="1.1"/>
<line x1="259.1" y1="666.9" x2="261.8" y2="666.9" stroke="#222" stroke-width="1.1"/>
<line x1="257.40000000000003" y1="662.6" x2="261.8" y2="662.6" stroke="#222" stroke-width="1.5"/>
<text x="257.2" y="667.4999999999999" font-size="11.1" font-weight="bold" text-anchor="end" letter-spacing="0.2" fill="#111">1×10<tspan font-size="7.5" dy="-3.8">3</tspan></text>
<line x1="259.1" y1="634.1" x2="261.8" y2="634.1" stroke="#222" stroke-width="1.1"/>
<line x1="259.1" y1="617.5" x2="261.8" y2="617.5" stroke="#222" stroke-width="1.1"/>
<line x1="259.1" y1="605.6" x2="261.8" y2="605.6" stroke="#222" stroke-width="1.1"/>
<line x1="259.1" y1="596.5" x2="261.8" y2="596.5" stroke="#222" stroke-width="1.1"/>
<line x1="259.1" y1="589.0" x2="261.8" y2="589.0" stroke="#222" stroke-width="1.1"/>
<line x1="259.1" y1="582.7" x2="261.8" y2="582.7" stroke="#222" stroke-width="1.1"/>
<line x1="259.1" y1="577.2" x2="261.8" y2="577.2" stroke="#222" stroke-width="1.1"/>
<line x1="259.1" y1="572.3" x2="261.8" y2="572.3" stroke="#222" stroke-width="1.1"/>
<line x1="257.40000000000003" y1="568.0" x2="261.8" y2="568.0" stroke="#222" stroke-width="1.5"/>
<text x="257.2" y="572.9" font-size="11.1" font-weight="bold" text-anchor="end" letter-spacing="0.2" fill="#111">1×10<tspan font-size="7.5" dy="-3.8">4</tspan></text>
<line x1="300.4" y1="854.8" x2="300.4" y2="863.2" stroke="#222" stroke-width="2"/>
<line x1="378.1" y1="854.8" x2="378.1" y2="863.2" stroke="#222" stroke-width="2"/>
<line x1="461" y1="854.8" x2="461" y2="863.2" stroke="#222" stroke-width="2"/>
<polyline points="300.8,667.4 378.6,638 457,620" fill="none" stroke="#9a1712" stroke-width="1.3"/>
<path d="M300.8,651 V695.4 M297.2,651 H304.40000000000003 M297.2,695.4 H304.40000000000003" stroke="#b3382f" stroke-width="1.15" fill="none"/>
<rect x="297.6" y="664.1999999999999" width="6.4" height="6.4" fill="#9a1712"/>
<path d="M378.6,624.6 V658 M375.0,624.6 H382.20000000000005 M375.0,658 H382.20000000000005" stroke="#b3382f" stroke-width="1.15" fill="none"/>
<rect x="375.40000000000003" y="634.8" width="6.4" height="6.4" fill="#9a1712"/>
<path d="M457,601.3 V657 M453.4,601.3 H460.6 M453.4,657 H460.6" stroke="#b3382f" stroke-width="1.15" fill="none"/>
<rect x="453.8" y="616.8" width="6.4" height="6.4" fill="#9a1712"/>
<polyline points="300.8,780.7 378.6,747.2 457,802" fill="none" stroke="#0f9a54" stroke-width="1.3"/>
<path d="M300.8,774.3 V788.6 M297.2,774.3 H304.40000000000003 M297.2,788.6 H304.40000000000003" stroke="#2fa468" stroke-width="1.15" fill="none"/>
<path d="M300.8,776.9000000000001 L304.3,783.3000000000001 L297.3,783.3000000000001 z" fill="#0f9a54"/>
<path d="M378.6,739.3 V754.5 M375.0,739.3 H382.20000000000005 M375.0,754.5 H382.20000000000005" stroke="#2fa468" stroke-width="1.15" fill="none"/>
<path d="M378.6,743.4000000000001 L382.1,749.8000000000001 L375.1,749.8000000000001 z" fill="#0f9a54"/>
<path d="M457,790.4 V818 M453.4,790.4 H460.6 M453.4,818 H460.6" stroke="#2fa468" stroke-width="1.15" fill="none"/>
<path d="M457,798.2 L460.5,804.6 L453.5,804.6 z" fill="#0f9a54"/>
<line x1="279" y1="573.4" x2="288.5" y2="573.4" stroke="#9a1712" stroke-width="1"/><rect x="280.6" y="570.2" width="6.4" height="6.4" fill="#9a1712"/>
<line x1="279" y1="589.2" x2="288.5" y2="589.2" stroke="#0f9a54" stroke-width="1"/><path d="M283.8,585.4 L287.3,591.8 L280.3,591.8 z" fill="#0f9a54"/>
<text x="292.7" y="576.6" font-size="10.1" fill="#222">Pre-op. NT-proBNP elevation</text>
<text x="292.7" y="592.4" font-size="10.1" fill="#222">Pre-op. normal NT-pro BNP</text>
<text x="323.8" y="618" font-size="12.1" fill="#222"><tspan font-style="italic">P</tspan> = 0.04 vs. pre-op</text>
<text x="331" y="733" font-size="12.1" fill="#222"><tspan font-style="italic">P</tspan> = 0.06 vs. pre-op</text>
<text transform="translate(222.6,707.4) rotate(-90)" font-size="13" font-weight="bold" text-anchor="middle" fill="#111">NT-proBNP (pg/ml)</text>
<text transform="translate(303.3,872) rotate(-45)" font-size="11.1" font-weight="bold" text-anchor="end" fill="#111">Preoperative</text>
<text transform="translate(381.1,872) rotate(-45)" font-size="11.1" font-weight="bold" text-anchor="end" fill="#111">Post AVL</text>
<text transform="translate(466,875) rotate(-45)" font-size="11.1" font-weight="bold" text-anchor="end" fill="#111">POD 10 after flap</text>
<text x="557" y="543" font-size="18.5" font-weight="bold" fill="#111">d</text>
<text x="662.5" y="543.3" font-size="15.7" text-anchor="middle" fill="#222">CT-proAVP</text>
<line x1="551.6" y1="695" x2="757" y2="695" stroke="#f43a26" stroke-width="1.75" stroke-dasharray="0.01,3.35" stroke-linecap="round"/>
<text x="552.5" y="691.2" font-size="7" fill="#ee4030">Upper reference limit</text>
<path d="M548.1,570 V851 H755" stroke="#222" stroke-width="1.8" fill="none"/>
<line x1="541.9" y1="851.0" x2="548.1" y2="851.0" stroke="#222" stroke-width="1.5"/>
<text x="541.5" y="855.9" font-size="11.1" font-weight="bold" text-anchor="end" letter-spacing="0.2" fill="#111">1×10<tspan font-size="7.5" dy="-3.8">0</tspan></text>
<line x1="541.9" y1="780.9" x2="548.1" y2="780.9" stroke="#222" stroke-width="1.5"/>
<text x="541.5" y="785.75" font-size="11.1" font-weight="bold" text-anchor="end" letter-spacing="0.2" fill="#111">3×10<tspan font-size="7.5" dy="-3.8">0</tspan></text>
<line x1="541.9" y1="710.7" x2="548.1" y2="710.7" stroke="#222" stroke-width="1.5"/>
<text x="541.5" y="715.6" font-size="11.1" font-weight="bold" text-anchor="end" letter-spacing="0.2" fill="#111">1×10<tspan font-size="7.5" dy="-3.8">1</tspan></text>
<line x1="541.9" y1="640.5" x2="548.1" y2="640.5" stroke="#222" stroke-width="1.5"/>
<text x="541.5" y="645.4499999999999" font-size="11.1" font-weight="bold" text-anchor="end" letter-spacing="0.2" fill="#111">3×10<tspan font-size="7.5" dy="-3.8">1</tspan></text>
<line x1="541.9" y1="570.4" x2="548.1" y2="570.4" stroke="#222" stroke-width="1.5"/>
<text x="541.5" y="575.3" font-size="11.1" font-weight="bold" text-anchor="end" letter-spacing="0.2" fill="#111">1×10<tspan font-size="7.5" dy="-3.8">2</tspan></text>
<line x1="544.1" y1="788.9" x2="548.1" y2="788.9" stroke="#222" stroke-width="1.3"/>
<line x1="544.1" y1="799.6" x2="548.1" y2="799.6" stroke="#222" stroke-width="1.3"/>
<line x1="544.1" y1="815.6" x2="548.1" y2="815.6" stroke="#222" stroke-width="1.3"/>
<line x1="544.1" y1="718.8" x2="548.1" y2="718.8" stroke="#222" stroke-width="1.3"/>
<line x1="544.1" y1="729.4" x2="548.1" y2="729.4" stroke="#222" stroke-width="1.3"/>
<line x1="544.1" y1="745.4" x2="548.1" y2="745.4" stroke="#222" stroke-width="1.3"/>
<line x1="544.1" y1="648.6" x2="548.1" y2="648.6" stroke="#222" stroke-width="1.3"/>
<line x1="544.1" y1="659.2" x2="548.1" y2="659.2" stroke="#222" stroke-width="1.3"/>
<line x1="544.1" y1="675.2" x2="548.1" y2="675.2" stroke="#222" stroke-width="1.3"/>
<line x1="544.1" y1="578.4" x2="548.1" y2="578.4" stroke="#222" stroke-width="1.3"/>
<line x1="544.1" y1="589.1" x2="548.1" y2="589.1" stroke="#222" stroke-width="1.3"/>
<line x1="544.1" y1="605.1" x2="548.1" y2="605.1" stroke="#222" stroke-width="1.3"/>
<line x1="593.6" y1="851" x2="593.6" y2="856" stroke="#222" stroke-width="1.6"/>
<line x1="662" y1="851" x2="662" y2="856" stroke="#222" stroke-width="1.6"/>
<line x1="730.8" y1="851" x2="730.8" y2="856" stroke="#222" stroke-width="1.6"/>
<polyline points="593.6,720.4 662,683.8 730.8,685" fill="none" stroke="#111" stroke-width="1.2"/>
<path d="M593.6,701.2 V747.8 M588.4,701.2 H598.8000000000001 M588.4,747.8 H598.8000000000001" stroke="#111" stroke-width="1.1" fill="none"/>
<circle cx="593.6" cy="720.4" r="4.6" fill="#0a0a0a"/>
<path d="M662,664.8 V710 M656.8,664.8 H667.2 M656.8,710 H667.2" stroke="#111" stroke-width="1.1" fill="none"/>
<circle cx="662" cy="683.8" r="4.6" fill="#0a0a0a"/>
<path d="M730.8,666.3 V711 M725.5999999999999,666.3 H736.0 M725.5999999999999,711 H736.0" stroke="#111" stroke-width="1.1" fill="none"/>
<circle cx="730.8" cy="685" r="4.6" fill="#0a0a0a"/>
<text x="605" y="654" font-size="12.1" fill="#222"><tspan font-style="italic">P</tspan> = 0.14 vs. pre-op</text>
<text transform="translate(502.5,711) rotate(-90)" font-size="12" font-weight="bold" text-anchor="middle" fill="#111">CT-proAVP pmol/l</text>
<text transform="translate(597.1,866) rotate(-45)" font-size="11.5" font-weight="bold" text-anchor="end" fill="#111">Preoperative</text>
<text transform="translate(665.3,866) rotate(-45)" font-size="11.5" font-weight="bold" text-anchor="end" fill="#111">After AVL</text>
<text transform="translate(734.3,868.5) rotate(-45)" font-size="11.5" font-weight="bold" text-anchor="end" fill="#111">POD 10 after flap</text>
</svg></body></html>
